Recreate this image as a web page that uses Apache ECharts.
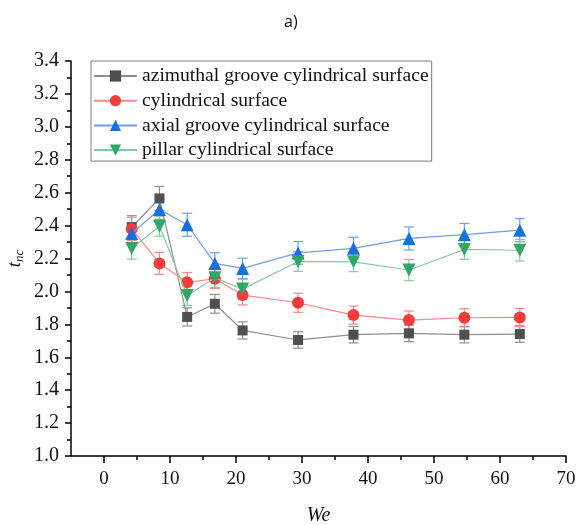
<!DOCTYPE html>
<html>
<head>
<meta charset="utf-8">
<script src="https://cdn.jsdelivr.net/npm/echarts@6/dist/echarts.min.js"></script>
<style>
  html, body { margin: 0; padding: 0; background: #fff; }
  #chart { width: 577px; height: 525px; }
</style>
</head>
<body>
<div id="chart"></div>
<script>
// Weber number of each measurement
const weValues = [4.2, 8.4, 12.6, 16.8, 21.0, 29.4, 37.8, 46.2, 54.6, 63.0];

// Dimensionless contact time t_nc for each surface, with its error (±)
const azimuthalGroove = [2.39, 2.565, 1.845, 1.925, 1.763, 1.705, 1.737, 1.745, 1.737, 1.741];
const azimuthalGrooveErr = [0.07, 0.073, 0.055, 0.057, 0.052, 0.05, 0.05, 0.05, 0.05, 0.05];

const cylindrical = [2.38, 2.17, 2.055, 2.077, 1.978, 1.931, 1.856, 1.826, 1.840, 1.842];
const cylindricalErr = [0.07, 0.067, 0.06, 0.06, 0.06, 0.058, 0.055, 0.055, 0.055, 0.055];

const axialGroove = [2.352, 2.498, 2.405, 2.17, 2.14, 2.234, 2.262, 2.322, 2.345, 2.372];
const axialGrooveErr = [0.065, 0.06, 0.07, 0.065, 0.062, 0.069, 0.067, 0.07, 0.068, 0.07];

const pillar = [2.261, 2.396, 1.975, 2.083, 2.014, 2.182, 2.18, 2.13, 2.255, 2.25];
const pillarErr = [0.065, 0.06, 0.06, 0.06, 0.06, 0.06, 0.06, 0.065, 0.06, 0.065];

const seriesNames = [
  'azimuthal groove cylindrical surface',
  'cylindrical surface',
  'axial groove cylindrical surface',
  'pillar cylindrical surface'
];

// Axis tick labels
const xMajorTicks = [0, 10, 20, 30, 40, 50, 60, 70];
const xMinorTicks = [5, 15, 25, 35, 45, 55, 65];

const serif = 'Liberation Serif';

const groups = [
  { name: seriesNames[0], values: azimuthalGroove, errs: azimuthalGrooveErr,
    marker: '#4f4f4f', line: '#8f8f8f', symbol: 'rect', size: 10, rotate: 0 },
  { name: seriesNames[1], values: cylindrical, errs: cylindricalErr,
    marker: '#f23c3c', line: '#f58a8a', symbol: 'circle', size: 12, rotate: 0 },
  { name: seriesNames[2], values: axialGroove, errs: axialGrooveErr,
    marker: '#1a6fdf', line: '#6c9fe6', symbol: 'triangle', size: 13, rotate: 0 },
  { name: seriesNames[3], values: pillar, errs: pillarErr,
    marker: '#2fa866', line: '#80cda2', symbol: 'triangle', size: 13, rotate: 180 }
];

function errorBarRenderer(color) {
  return function (params, api) {
    const x = api.value(0), y = api.value(1), e = api.value(2);
    const top = api.coord([x, y + e]);
    const bot = api.coord([x, y - e]);
    const hw = 5;
    const style = { stroke: color, lineWidth: 1.2, fill: null };
    return {
      type: 'group',
      children: [
        { type: 'line', shape: { x1: top[0], y1: top[1], x2: bot[0], y2: bot[1] }, style: style },
        { type: 'line', shape: { x1: top[0] - hw, y1: top[1], x2: top[0] + hw, y2: top[1] }, style: style },
        { type: 'line', shape: { x1: bot[0] - hw, y1: bot[1], x2: bot[0] + hw, y2: bot[1] }, style: style }
      ]
    };
  };
}

const series = [];
groups.forEach(function (g) {
  series.push({
    name: g.name + ' error',
    type: 'custom',
    xAxisIndex: 0,
    yAxisIndex: 0,
    renderItem: errorBarRenderer(g.line),
    data: weValues.map(function (x, i) { return [x, g.values[i], g.errs[i]]; }),
    z: 1,
    silent: true
  });
});
groups.forEach(function (g, k) {
  series.push({
    name: g.name,
    type: 'line',
    xAxisIndex: 0,
    yAxisIndex: 0,
    data: weValues.map(function (x, i) { return [x, g.values[i]]; }),
    symbol: g.symbol,
    symbolSize: g.size,
    symbolRotate: g.rotate,
    showAllSymbol: true,
    lineStyle: { color: g.line, width: 1.2 },
    itemStyle: { color: g.marker, borderWidth: 0 },
    z: 3 + k,
    animation: false
  });
});

const axisLineStyle = { color: '#000', width: 1.5 };

const option = {
  animation: false,
  backgroundColor: '#fff',
  title: {
    text: 'a)',
    left: 279,
    top: 9,
    textStyle: { fontFamily: 'Open Sans', fontSize: 16, fontWeight: 'normal', color: '#111' }
  },
  grid: { left: 71, right: 11, top: 61, bottom: 69, containLabel: false, outerBoundsMode: 'none' },
  legend: {
    orient: 'vertical',
    left: 91,
    top: 61,
    data: seriesNames,
    itemWidth: 43,
    itemHeight: 14,
    itemGap: 4.7,
    padding: [5, 3, 1, 2],
    borderColor: '#7a7a7a',
    borderWidth: 1,
    borderRadius: 0,
    backgroundColor: '#fff',
    textStyle: { fontFamily: serif, fontSize: 19.6, lineHeight: 20, color: '#111' }
  },
  xAxis: [
    {
      type: 'value',
      min: -5,
      max: 70,
      interval: 5,
      position: 'bottom',
      name: 'We',
      nameLocation: 'middle',
      nameGap: 50,
      nameMoveOverlap: false,
      nameTextStyle: { fontFamily: serif, fontStyle: 'italic', fontSize: 20, color: '#111',
                       verticalAlign: 'top' },
      axisLine: { show: true, onZero: false, lineStyle: axisLineStyle },
      axisTick: { show: true, inside: false, length: 7, lineStyle: { color: '#000', width: 1.5 },
                  customValues: xMajorTicks },
      axisLabel: { fontFamily: serif, fontSize: 19, color: '#111', margin: 14,
                   customValues: xMajorTicks },
      splitLine: { show: false }
    },
    {
      type: 'value',
      min: -5,
      max: 70,
      interval: 5,
      position: 'bottom',
      axisLine: { show: false, onZero: false },
      axisTick: { show: true, inside: false, length: 4, lineStyle: { color: '#000', width: 1.5 },
                  customValues: xMinorTicks },
      axisLabel: { show: false },
      splitLine: { show: false }
    }
  ],
  yAxis: {
    type: 'value',
    min: 1.0,
    max: 3.4,
    interval: 0.2,
    name: '{t|t}{s|nc}',
    nameLocation: 'middle',
    nameRotate: 90,
    nameGap: 56,
    nameMoveOverlap: false,
    nameTextStyle: {
      verticalAlign: 'middle',
      rich: {
        t: { fontFamily: serif, fontStyle: 'italic', fontSize: 19, color: '#111' },
        s: { fontFamily: serif, fontStyle: 'italic', fontSize: 13, color: '#111',
             padding: [9, 0, 0, 0] }
      }
    },
    axisLine: { show: true, onZero: false, lineStyle: axisLineStyle },
    axisTick: { show: true, inside: false, length: 6, lineStyle: { color: '#000', width: 1.5 } },
    minorTick: { show: true, splitNumber: 2, length: 4, lineStyle: { color: '#000', width: 1.5 } },
    axisLabel: { fontFamily: serif, fontSize: 20, color: '#111', margin: 12,
                 formatter: function (v) { return v.toFixed(1); } },
    splitLine: { show: false }
  },
  series: series
};

const chart = echarts.init(document.getElementById('chart'), null, { renderer: 'canvas' });
chart.setOption(option);
</script>
</body>
</html>
